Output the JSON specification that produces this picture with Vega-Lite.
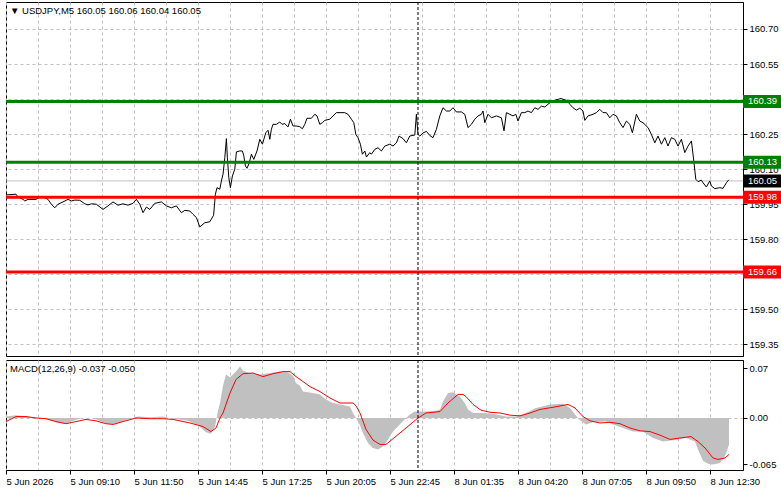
{
"$schema": "https://vega.github.io/schema/vega-lite/v6.json",
"background": "white",
"padding": {"left": 3, "top": 1, "right": 0, "bottom": 0},
"autosize": {"type": "pad"},
"spacing": 2,
"config": {
  "view": {"stroke": "black", "strokeWidth": 1},
  "font": "Liberation Sans",
  "axis": {"labelFont": "Liberation Sans", "labelFontSize": 9.5, "labelColor": "black", "domainColor": "black", "tickColor": "black", "gridColor": "#c0c0c0", "gridDash": [3, 3], "title": null, "labelOverlap": false, "labelFlush": false, "tickSize": 4, "labelPadding": 2}
},
"datasets": {
  "price": [
{"i":0,"price":159.990},{"i":5,"price":159.993},{"i":6,"price":159.981},{"i":8.5,"price":159.971},{"i":9.4,"price":159.964},{"i":11,"price":159.971},{"i":15,"price":159.971},{"i":16.9,"price":159.981},{"i":19.4,"price":159.978},{"i":21,"price":159.971},{"i":22.7,"price":159.950},{"i":24.4,"price":159.935},{"i":26,"price":159.950},{"i":28.5,"price":159.960},{"i":31,"price":159.971},{"i":32.7,"price":159.964},{"i":34.4,"price":159.968},{"i":36.9,"price":159.967},{"i":39.4,"price":159.952},{"i":41,"price":159.947},{"i":42.7,"price":159.952},{"i":45.2,"price":159.950},{"i":48.5,"price":159.928},{"i":51,"price":159.943},{"i":53.5,"price":159.960},{"i":56,"price":159.946},{"i":58.5,"price":159.952},{"i":61,"price":159.946},{"i":63.5,"price":159.954},{"i":65.2,"price":159.971},{"i":66.9,"price":159.950},{"i":68.5,"price":159.914},{"i":70.2,"price":159.938},{"i":71.9,"price":159.928},{"i":74.4,"price":159.954},{"i":77.7,"price":159.960},{"i":80.2,"price":159.943},{"i":82.7,"price":159.935},{"i":85.2,"price":159.943},{"i":87.7,"price":159.914},{"i":89.4,"price":159.924},{"i":91.9,"price":159.921},{"i":93.5,"price":159.907},{"i":95.2,"price":159.893},{"i":96.9,"price":159.853},{"i":99.4,"price":159.871},{"i":101.9,"price":159.875},{"i":103.8,"price":159.903},{"i":104.7,"price":159.993},{"i":105.5,"price":160.021},{"i":106.9,"price":160.014},{"i":107.7,"price":160.050},{"i":108.5,"price":160.078},{"i":109.4,"price":160.149},{"i":110.2,"price":160.231},{"i":110.7,"price":160.149},{"i":111.4,"price":160.064},{"i":112.2,"price":160.021},{"i":113.2,"price":160.071},{"i":114.4,"price":160.100},{"i":115.2,"price":160.174},{"i":116.9,"price":160.178},{"i":118.2,"price":160.178},{"i":118.9,"price":160.157},{"i":119.7,"price":160.114},{"i":120.5,"price":160.104},{"i":121.5,"price":160.124},{"i":122.7,"price":160.164},{"i":123.9,"price":160.142},{"i":125.5,"price":160.178},{"i":126.9,"price":160.228},{"i":128.2,"price":160.207},{"i":129.9,"price":160.256},{"i":131,"price":160.267},{"i":131.9,"price":160.228},{"i":132.7,"price":160.271},{"i":133.5,"price":160.292},{"i":135.2,"price":160.292},{"i":136.9,"price":160.302},{"i":138,"price":160.292},{"i":139.4,"price":160.295},{"i":141,"price":160.281},{"i":142.2,"price":160.314},{"i":143.5,"price":160.285},{"i":145.2,"price":160.285},{"i":146.9,"price":160.282},{"i":148.2,"price":160.273},{"i":149.4,"price":160.292},{"i":150.5,"price":160.318},{"i":152.7,"price":160.318},{"i":154.4,"price":160.335},{"i":155.5,"price":160.328},{"i":156.9,"price":160.292},{"i":158.2,"price":160.299},{"i":159.4,"price":160.309},{"i":161.9,"price":160.314},{"i":163.5,"price":160.328},{"i":165.2,"price":160.342},{"i":169.4,"price":160.342},{"i":171,"price":160.335},{"i":172.7,"price":160.314},{"i":173.9,"price":160.299},{"i":174.9,"price":160.249},{"i":176,"price":160.235},{"i":177.2,"price":160.207},{"i":178.2,"price":160.164},{"i":179.4,"price":160.178},{"i":180.2,"price":160.152},{"i":181.9,"price":160.171},{"i":182.7,"price":160.164},{"i":184.4,"price":160.185},{"i":186,"price":160.192},{"i":187.7,"price":160.178},{"i":189.4,"price":160.199},{"i":191.9,"price":160.207},{"i":193.5,"price":160.199},{"i":195.2,"price":160.213},{"i":196.5,"price":160.242},{"i":198.5,"price":160.231},{"i":200.2,"price":160.213},{"i":201.9,"price":160.242},{"i":203.5,"price":160.245},{"i":204.4,"price":160.246},{"i":205.2,"price":160.335},{"i":206,"price":160.249},{"i":206.9,"price":160.242},{"i":208.5,"price":160.255},{"i":210.2,"price":160.262},{"i":211.9,"price":160.244},{"i":213.5,"price":160.235},{"i":215.2,"price":160.271},{"i":216.9,"price":160.328},{"i":218.5,"price":160.363},{"i":220.2,"price":160.349},{"i":221.9,"price":160.349},{"i":223.5,"price":160.363},{"i":225.2,"price":160.345},{"i":227.7,"price":160.345},{"i":229.4,"price":160.335},{"i":231,"price":160.278},{"i":232.7,"price":160.292},{"i":234.4,"price":160.314},{"i":236,"price":160.328},{"i":237.7,"price":160.335},{"i":238.5,"price":160.349},{"i":239.4,"price":160.299},{"i":241,"price":160.335},{"i":242.7,"price":160.320},{"i":245.2,"price":160.328},{"i":247.7,"price":160.320},{"i":249,"price":160.264},{"i":250.2,"price":160.342},{"i":251.9,"price":160.335},{"i":253.5,"price":160.328},{"i":254.9,"price":160.335},{"i":256,"price":160.306},{"i":257.7,"price":160.342},{"i":259.4,"price":160.342},{"i":261,"price":160.349},{"i":262.7,"price":160.342},{"i":264.4,"price":160.363},{"i":266,"price":160.356},{"i":267.7,"price":160.370},{"i":269.4,"price":160.366},{"i":271,"price":160.378},{"i":272.7,"price":160.389},{"i":274.4,"price":160.395},{"i":276,"price":160.399},{"i":277.7,"price":160.403},{"i":278.5,"price":160.399},{"i":280.2,"price":160.395},{"i":281.9,"price":160.378},{"i":283.5,"price":160.363},{"i":285.2,"price":160.353},{"i":286.9,"price":160.361},{"i":288.5,"price":160.349},{"i":289.4,"price":160.309},{"i":291,"price":160.328},{"i":293.5,"price":160.335},{"i":295.2,"price":160.342},{"i":296.9,"price":160.356},{"i":298.5,"price":160.342},{"i":300.2,"price":160.342},{"i":301.9,"price":160.320},{"i":303.5,"price":160.335},{"i":305.2,"price":160.328},{"i":306.9,"price":160.299},{"i":308.5,"price":160.278},{"i":310.2,"price":160.306},{"i":311.9,"price":160.292},{"i":313.2,"price":160.256},{"i":315.2,"price":160.335},{"i":316.9,"price":160.306},{"i":318.5,"price":160.299},{"i":321,"price":160.278},{"i":322.7,"price":160.249},{"i":324.4,"price":160.213},{"i":326,"price":160.242},{"i":327.7,"price":160.207},{"i":329.4,"price":160.235},{"i":331,"price":160.199},{"i":332.7,"price":160.235},{"i":334.4,"price":160.228},{"i":336,"price":160.199},{"i":337.7,"price":160.228},{"i":339.4,"price":160.171},{"i":341,"price":160.199},{"i":342.7,"price":160.221},{"i":343.9,"price":160.135},{"i":344.9,"price":160.057},{"i":346,"price":160.047},{"i":347.7,"price":160.053},{"i":348.5,"price":160.042},{"i":350.2,"price":160.024},{"i":351.9,"price":160.050},{"i":352.7,"price":160.028},{"i":354.4,"price":160.017},{"i":356.9,"price":160.021},{"i":358.5,"price":160.018},{"i":360.2,"price":160.042},{"i":361.4,"price":160.055}
  ],
  "macd": [
{"i":0,"macd":0.002},{"i":5,"macd":0.004},{"i":11,"macd":0.002},{"i":16,"macd":0.0},{"i":21,"macd":-0.002},{"i":26,"macd":-0.007},{"i":30,"macd":-0.008},{"i":33.5,"macd":-0.004},{"i":38.5,"macd":0.0},{"i":43.5,"macd":0.0},{"i":48.5,"macd":-0.006},{"i":52,"macd":-0.009},{"i":56,"macd":-0.007},{"i":61,"macd":-0.002},{"i":66,"macd":0.002},{"i":72,"macd":0.001},{"i":78.5,"macd":0.002},{"i":83.5,"macd":-0.001},{"i":91,"macd":-0.004},{"i":96,"macd":-0.010},{"i":100,"macd":-0.020},{"i":102.5,"macd":-0.022},{"i":104.5,"macd":-0.012},{"i":106,"macd":0.010},{"i":107,"macd":0.021},{"i":108.5,"macd":0.045},{"i":110,"macd":0.061},{"i":112,"macd":0.057},{"i":115,"macd":0.065},{"i":117,"macd":0.072},{"i":118.5,"macd":0.066},{"i":122,"macd":0.063},{"i":127,"macd":0.061},{"i":132,"macd":0.063},{"i":137,"macd":0.065},{"i":141,"macd":0.064},{"i":143.5,"macd":0.059},{"i":145,"macd":0.049},{"i":147,"macd":0.045},{"i":148.5,"macd":0.037},{"i":153.5,"macd":0.035},{"i":157,"macd":0.033},{"i":160,"macd":0.026},{"i":163.5,"macd":0.021},{"i":167,"macd":0.019},{"i":172,"macd":0.016},{"i":173.5,"macd":0.007},{"i":175,"macd":0.0},{"i":177,"macd":-0.010},{"i":178.5,"macd":-0.021},{"i":181,"macd":-0.035},{"i":183.5,"macd":-0.042},{"i":186,"macd":-0.044},{"i":188.5,"macd":-0.040},{"i":191,"macd":-0.030},{"i":193.5,"macd":-0.019},{"i":196.9,"macd":-0.009},{"i":200,"macd":0.0},{"i":202,"macd":0.005},{"i":204.4,"macd":0.009},{"i":210,"macd":0.009},{"i":215,"macd":0.010},{"i":217,"macd":0.012},{"i":218.5,"macd":0.023},{"i":221,"macd":0.035},{"i":223.5,"macd":0.036},{"i":226.9,"macd":0.030},{"i":229.4,"macd":0.021},{"i":231,"macd":0.012},{"i":233.5,"macd":0.007},{"i":238.5,"macd":0.007},{"i":243.5,"macd":0.006},{"i":250,"macd":0.002},{"i":255,"macd":0.002},{"i":260,"macd":0.007},{"i":265,"macd":0.014},{"i":272,"macd":0.019},{"i":278.5,"macd":0.020},{"i":282,"macd":0.014},{"i":284.5,"macd":0.005},{"i":287,"macd":-0.003},{"i":290,"macd":-0.009},{"i":293.5,"macd":-0.006},{"i":300,"macd":-0.005},{"i":303.5,"macd":-0.009},{"i":308.5,"macd":-0.014},{"i":313.5,"macd":-0.019},{"i":318.5,"macd":-0.019},{"i":323.5,"macd":-0.028},{"i":328.5,"macd":-0.033},{"i":333.5,"macd":-0.031},{"i":340,"macd":-0.028},{"i":344.5,"macd":-0.033},{"i":346,"macd":-0.044},{"i":348.5,"macd":-0.060},{"i":351,"macd":-0.064},{"i":353.5,"macd":-0.065},{"i":357,"macd":-0.063},{"i":359,"macd":-0.056},{"i":360.5,"macd":-0.046},{"i":361.5,"macd":-0.037}
  ],
  "signal": [
{"i":0,"signal":-0.005},{"i":5,"signal":0.002},{"i":10,"signal":0.002},{"i":15,"signal":0.0},{"i":20,"signal":-0.001},{"i":25,"signal":-0.005},{"i":30,"signal":-0.008},{"i":35,"signal":-0.005},{"i":40,"signal":-0.002},{"i":45,"signal":-0.004},{"i":50,"signal":-0.008},{"i":53.5,"signal":-0.009},{"i":58.5,"signal":-0.005},{"i":65,"signal":0.0},{"i":72,"signal":-0.001},{"i":78.5,"signal":-0.001},{"i":83.5,"signal":-0.002},{"i":92,"signal":-0.007},{"i":98.5,"signal":-0.012},{"i":102.5,"signal":-0.019},{"i":105,"signal":-0.014},{"i":107,"signal":0.0},{"i":108.5,"signal":0.007},{"i":112,"signal":0.035},{"i":115,"signal":0.054},{"i":118.5,"signal":0.062},{"i":123.5,"signal":0.063},{"i":128.5,"signal":0.058},{"i":133.5,"signal":0.062},{"i":138.5,"signal":0.065},{"i":142,"signal":0.065},{"i":145,"signal":0.058},{"i":148.5,"signal":0.051},{"i":152,"signal":0.044},{"i":157,"signal":0.037},{"i":162,"signal":0.028},{"i":167,"signal":0.021},{"i":173.5,"signal":0.021},{"i":175,"signal":0.017},{"i":177,"signal":0.007},{"i":180,"signal":-0.016},{"i":183.5,"signal":-0.031},{"i":187,"signal":-0.037},{"i":190,"signal":-0.037},{"i":193.5,"signal":-0.029},{"i":200,"signal":-0.014},{"i":206,"signal":0.0},{"i":210,"signal":0.007},{"i":217,"signal":0.009},{"i":221,"signal":0.021},{"i":226,"signal":0.033},{"i":228.5,"signal":0.033},{"i":230,"signal":0.030},{"i":233.5,"signal":0.019},{"i":237.5,"signal":0.011},{"i":242,"signal":0.008},{"i":247,"signal":0.007},{"i":252,"signal":0.004},{"i":257,"signal":0.003},{"i":262,"signal":0.007},{"i":267,"signal":0.012},{"i":273.5,"signal":0.015},{"i":281,"signal":0.019},{"i":284.5,"signal":0.014},{"i":288.5,"signal":0.002},{"i":292,"signal":-0.004},{"i":297,"signal":-0.007},{"i":302,"signal":-0.006},{"i":307,"signal":-0.008},{"i":312,"signal":-0.014},{"i":317,"signal":-0.018},{"i":322,"signal":-0.019},{"i":327,"signal":-0.024},{"i":332,"signal":-0.030},{"i":337,"signal":-0.028},{"i":342.5,"signal":-0.026},{"i":346,"signal":-0.033},{"i":349.5,"signal":-0.042},{"i":353.5,"signal":-0.056},{"i":356,"signal":-0.058},{"i":359.5,"signal":-0.056},{"i":361.5,"signal":-0.051}
  ],
  "levels": [
{"price":160.39,"zone":"upper"},{"price":160.13,"zone":"upper"},{"price":159.98,"zone":"lower"},{"price":159.66,"zone":"lower"},{"price":160.05,"zone":"bid"}
  ]
},
"vconcat": [
{
  "width": 737, "height": 354,
  "layer": [
    {
      "data": {"name": "levels"},
      "transform": [{"filter": "datum.zone === 'bid'"}],
      "mark": {"type": "rule", "color": "#c0c0c0", "strokeWidth": 1},
      "encoding": {
        "y": {"field": "price", "type": "quantitative", "scale": {"domain": [159.3007, 160.8155], "nice": false, "zero": false},
          "axis": {"orient": "right", "values": [159.35, 159.5, 159.65, 159.8, 159.95, 160.1, 160.25, 160.4, 160.55, 160.7], "tickCount": 40, "format": ".2f", "grid": true,
            "labelExpr": "(abs(datum.value - 160.4) < 0.001 || abs(datum.value - 159.65) < 0.001) ? '' : datum.label"}}
      }
    },
    {
      "data": {"name": "price"},
      "mark": {"type": "line", "color": "black", "strokeWidth": 1},
      "encoding": {
        "x": {"field": "i", "type": "quantitative", "scale": {"domain": [0, 368.5], "nice": false, "zero": false},
          "axis": {"values": [0,16,32,48,64,80,96,112,128,144,160,176,192,208,224,240,256,272,288,304,320,336,352], "tickCount": 60, "grid": true, "labels": false, "ticks": false, "domain": false}},
        "y": {"field": "price", "type": "quantitative"}
      }
    },
    {
      "data": {"name": "levels"},
      "transform": [{"filter": "datum.zone !== 'bid'"}],
      "mark": {"type": "rule", "strokeWidth": 3},
      "encoding": {
        "y": {"field": "price", "type": "quantitative"},
        "color": {"field": "zone", "type": "nominal", "scale": {"domain": ["upper", "lower", "bid"], "range": ["#008000", "#ff0000", "#000000"]}, "legend": null}
      }
    },
    {
      "data": {"values": [{"i": 206}]},
      "mark": {"type": "rule", "color": "black", "strokeWidth": 1, "strokeDash": [3, 2]},
      "encoding": {"x": {"field": "i", "type": "quantitative"}}
    },
    {
      "data": {"name": "levels"},
      "mark": {"type": "rect", "height": 13},
      "encoding": {
        "x": {"datum": 368.5},
        "x2": {"datum": 387.5},
        "y": {"field": "price", "type": "quantitative"},
        "color": {"field": "zone", "type": "nominal", "legend": null}
      }
    },
    {
      "data": {"name": "levels"},
      "mark": {"type": "text", "color": "white", "align": "left", "baseline": "middle", "font": "Liberation Sans", "fontSize": 9.5},
      "encoding": {
        "x": {"datum": 371},
        "y": {"field": "price", "type": "quantitative"},
        "text": {"field": "price", "type": "quantitative", "format": ".2f"}
      }
    },
    {
      "data": {"values": [{}]},
      "mark": {"type": "text", "text": "▼ USDJPY,M5  160.05 160.06 160.04 160.05", "align": "left", "baseline": "middle", "color": "black", "font": "Liberation Sans", "fontSize": 9.5},
      "encoding": {"x": {"datum": 2}, "y": {"datum": 160.777}}
    }
  ]
},
{
  "width": 737, "height": 110,
  "layer": [
    {
      "data": {"name": "macd"},
      "mark": {"type": "area", "color": "#c0c0c0", "opacity": 1},
      "encoding": {
        "x": {"field": "i", "type": "quantitative", "scale": {"domain": [0, 368.5], "nice": false, "zero": false},
          "axis": {"values": [0,16,32,48,64,80,96,112,128,144,160,176,192,208,224,240,256,272,288,304,320,336,352], "tickCount": 60, "grid": true, "domain": true,
            "labelAlign": "left",
            "tickOpacity": {"condition": {"test": "datum.value % 32 === 0", "value": 1}, "value": 0},
            "labelExpr": "datum.value % 32 === 0 ? ['5 Jun 2026','5 Jun 09:10','5 Jun 11:50','5 Jun 14:45','5 Jun 17:25','5 Jun 20:05','5 Jun 22:45','8 Jun 01:35','8 Jun 04:20','8 Jun 07:05','8 Jun 09:50','8 Jun 12:30'][datum.value / 32] : ''"}},
        "y": {"field": "macd", "type": "quantitative", "scale": {"domain": [-0.07283, 0.08123], "nice": false, "zero": false},
          "axis": {"orient": "right", "values": [0.07, 0, -0.065], "tickCount": 10, "grid": true,
            "gridOpacity": {"condition": {"test": "datum.value === 0", "value": 1}, "value": 0},
            "labelExpr": "datum.value === 0 ? '0.00' : (datum.value > 0 ? '0.07' : '-0.065')"}},
        "y2": {"datum": 0}
      }
    },
    {
      "data": {"name": "signal"},
      "mark": {"type": "line", "color": "#ff0000", "strokeWidth": 1},
      "encoding": {
        "x": {"field": "i", "type": "quantitative"},
        "y": {"field": "signal", "type": "quantitative"}
      }
    },
    {
      "data": {"values": [{"i": 206}]},
      "mark": {"type": "rule", "color": "black", "strokeWidth": 1, "strokeDash": [3, 2]},
      "encoding": {"x": {"field": "i", "type": "quantitative"}}
    },
    {
      "data": {"values": [{}]},
      "mark": {"type": "text", "text": "MACD(12,26,9) -0.037 -0.050", "align": "left", "baseline": "middle", "color": "black", "font": "Liberation Sans", "fontSize": 9.5},
      "encoding": {"x": {"datum": 2}, "y": {"datum": 0.0686}}
    }
  ]
}
]
}
